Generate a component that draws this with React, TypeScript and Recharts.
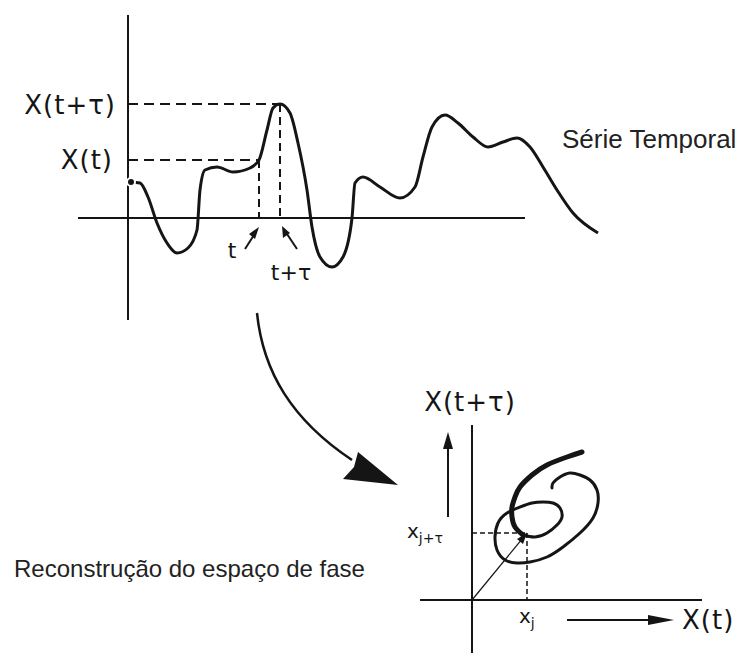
import React from "react";
import { LineChart, Line, XAxis, YAxis, ReferenceLine } from "recharts";

// time series (top): t in steps, value in arbitrary units
const seriesT = [
  0.3, 1.2, 2.0, 2.9, 3.9, 4.9, 6.0, 6.9, 7.2, 7.7, 8.9, 10.5, 12.2, 13.1, 13.9,
  14.5, 15.2, 16.2, 17.0, 17.9, 18.4, 19.2, 20.4, 21.5, 22.4, 22.7, 23.5, 25.2,
  27.2, 28.7, 29.5, 30.4, 31.7, 33.0, 34.5, 36.0, 37.5, 38.9, 40.2, 41.5, 42.9,
  44.5, 47.0,
];
const seriesX = [
  3.6, 3.5, 2.1, -0.5, -2.5, -3.5, -3.0, -1.2, 2.8, 4.8, 5.1, 4.6, 5.0, 5.8, 8.8,
  11.0, 11.4, 10.5, 7.5, 2.8, -0.9, -3.9, -4.9, -3.9, 0.0, 3.5, 4.1, 3.1, 2.0,
  3.1, 6.1, 9.1, 10.3, 9.5, 8.1, 7.1, 7.6, 8.0, 7.1, 5.1, 2.8, 0.5, -1.5,
];

// the two sampled instants
const tNow = 13.1;
const tLag = 15.2;
const xNow = 5.8;
const xLag = 11.4;

// reconstructed trajectory (bottom): X(t) vs X(t+tau)
const phaseU = [
  11.0, 9.5, 7.5, 6.0, 4.8, 4.3, 4.0, 4.0, 4.3, 5.1, 6.3, 7.5, 8.5, 9.0, 8.8,
  8.1, 7.1, 6.0, 4.8, 3.5, 2.6, 2.3, 2.5, 3.3, 4.5, 5.8, 7.5, 9.1, 10.8, 12.1,
  12.6, 12.5, 11.8, 10.8, 9.8, 8.8, 8.1, 8.0,
];
const phaseW = [
  14.8, 14.3, 13.5, 12.5, 11.3, 10.3, 9.3, 8.3, 7.3, 6.5, 6.3, 6.7, 7.5, 8.3,
  9.2, 9.7, 9.8, 9.7, 9.3, 8.7, 7.7, 6.3, 5.0, 4.0, 3.7, 3.8, 4.3, 5.3, 6.7, 8.2,
  9.7, 11.0, 12.0, 12.5, 12.7, 12.3, 11.7, 11.2,
];
const thickCount = 9;

// point x_j, x_{j+tau}
const xj = 5.5;
const xjTau = 6.7;

const ink = "#151515";
const hand = "'DejaVu Sans', sans-serif";
const plain = "'Liberation Sans', Arial, sans-serif";

const series = seriesT.map((t, i) => ({ t, v: seriesX[i] }));
const phase = phaseU.map((u, i) => ({ u, w: phaseW[i] }));
const phaseThick = phase.slice(0, thickCount + 1);
const phaseThin = phase.slice(thickCount);

function TopChart() {
  return (
    <LineChart
      width={744}
      height={340}
      margin={{ top: 0, right: 0, bottom: 0, left: 0 }}
      data={series}
    >
      <XAxis type="number" dataKey="t" domain={[-12.8, 61.6]} hide allowDataOverflow />
      <YAxis type="number" domain={[-12.2, 21.8]} hide allowDataOverflow />
      <ReferenceLine segment={[{ x: 0, y: 20.3 }, { x: 0, y: -10.2 }]} stroke={ink} strokeWidth={2} />
      <ReferenceLine segment={[{ x: -5, y: 0 }, { x: 39.7, y: 0 }]} stroke={ink} strokeWidth={2} />
      <ReferenceLine segment={[{ x: 0, y: xLag }, { x: tLag, y: xLag }]} stroke={ink} strokeWidth={2} strokeDasharray="10 6" />
      <ReferenceLine segment={[{ x: 0, y: xNow }, { x: tNow, y: xNow }]} stroke={ink} strokeWidth={2} strokeDasharray="10 6" />
      <ReferenceLine segment={[{ x: tNow, y: xNow }, { x: tNow, y: 0 }]} stroke={ink} strokeWidth={2} strokeDasharray="8 5" />
      <ReferenceLine segment={[{ x: tLag, y: xLag }, { x: tLag, y: 0 }]} stroke={ink} strokeWidth={2} strokeDasharray="8 5" />
      <Line
        type="monotone"
        dataKey="v"
        stroke={ink}
        strokeWidth={3}
        dot={false}
        isAnimationActive={false}
      />
    </LineChart>
  );
}

function PhaseChart() {
  return (
    <LineChart width={364} height={285} margin={{ top: 0, right: 0, bottom: 0, left: 0 }}>
      <XAxis type="number" dataKey="u" domain={[-9.2, 27.2]} hide allowDataOverflow />
      <YAxis type="number" domain={[-5.5, 23]} hide allowDataOverflow />
      <ReferenceLine segment={[{ x: 0, y: 17.5 }, { x: 0, y: -5.3 }]} stroke={ink} strokeWidth={2} />
      <ReferenceLine segment={[{ x: -5.2, y: 0 }, { x: 23, y: 0 }]} stroke={ink} strokeWidth={2} />
      <ReferenceLine segment={[{ x: 0, y: xjTau }, { x: xj, y: xjTau }]} stroke={ink} strokeWidth={1.5} strokeDasharray="5 3" />
      <ReferenceLine segment={[{ x: xj, y: xjTau }, { x: xj, y: 0 }]} stroke={ink} strokeWidth={1.5} strokeDasharray="5 3" />
      <ReferenceLine segment={[{ x: 0, y: 0 }, { x: xj, y: xjTau }]} stroke={ink} strokeWidth={1.2} />
      <Line
        data={phaseThick}
        type="natural"
        dataKey="w"
        stroke={ink}
        strokeWidth={5}
        strokeLinecap="round"
        dot={false}
        isAnimationActive={false}
      />
      <Line
        data={phaseThin}
        type="natural"
        dataKey="w"
        stroke={ink}
        strokeWidth={3}
        strokeLinecap="round"
        dot={false}
        isAnimationActive={false}
      />
    </LineChart>
  );
}

// labels and arrows drawn over the two charts
function Annotations() {
  return (
    <svg width={744} height={655} style={{ position: "absolute", left: 0, top: 0, pointerEvents: "none" }}>
      <g fill={ink} fontFamily={hand} fontSize={26} dominantBaseline="central">
        <text x={116} y={105} textAnchor="end" letterSpacing={1}>X(t+τ)</text>
        <text x={113} y={160} textAnchor="end" letterSpacing={1}>X(t)</text>
        <text x={232} y={250} textAnchor="middle" fontSize={22}>t</text>
        <text x={291} y={272} textAnchor="middle" fontSize={22}>t+τ</text>
        <text x={470} y={402} textAnchor="middle" letterSpacing={1}>X(t+τ)</text>
        <text x={682} y={620} letterSpacing={1}>X(t)</text>
        <text x={407} y={531} fontSize={20}>
          x<tspan fontSize={14} dy={7}>j+τ</tspan>
        </text>
        <text x={519} y={616} fontSize={20}>
          x<tspan fontSize={14} dy={7}>j</tspan>
        </text>
      </g>
      <g fill="#222" fontFamily={plain} dominantBaseline="central">
        <text x={562} y={139} fontSize={26}>Série Temporal</text>
        <text x={14} y={568} fontSize={24}>Reconstrução do espaço de fase</text>
      </g>
      <g stroke={ink} fill="none" strokeWidth={2.5}>
        <path d="M257,313 C263,372 292,420 352,460" />
        <line x1={245} y1={249} x2={254} y2={235} strokeWidth={2} />
        <line x1={297} y1={249} x2={287} y2={234} strokeWidth={2} />
        <line x1={448} y1={517} x2={448} y2={445} strokeWidth={2} />
        <line x1={567} y1={620} x2={655} y2={620} strokeWidth={2} />
      </g>
      <g fill={ink}>
        <polygon points="398,485 358,452 354,467 343,479" />
        <polygon points="259,227 249,234 255,239" />
        <polygon points="282,226 283,238 290,233" />
        <polygon points="448,432 443,449 453,449" />
        <polygon points="674,620 648,615 648,625" />
        <polygon points="527,533 517,539 523,544" />
      </g>
    </svg>
  );
}

export default function App() {
  return (
    <div style={{ position: "absolute", left: 0, top: 0, width: 744, height: 655, background: "#fff" }}>
      <div style={{ position: "absolute", left: 0, top: 0 }}>
        <TopChart />
      </div>
      <div style={{ position: "absolute", left: 380, top: 370 }}>
        <PhaseChart />
      </div>
      <Annotations />
    </div>
  );
}
